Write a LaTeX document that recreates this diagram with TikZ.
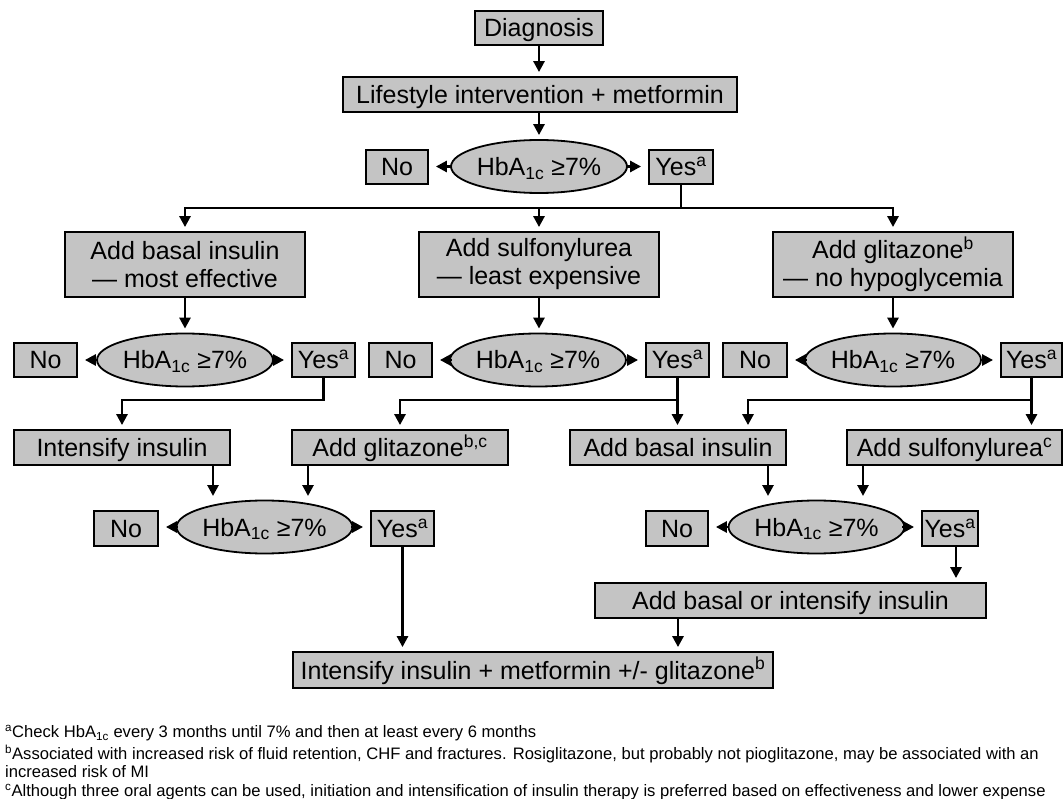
\documentclass[tikz,border=0pt]{standalone}
\usepackage{fontspec}
\setmainfont{Liberation Sans}
\usetikzlibrary{shapes.geometric,arrows.meta}
\definecolor{boxgray}{RGB}{196,196,196}
\newcommand\HbAtxt{HbA\textsubscript{1c} ≥7\%}
\newcommand\Yestxt{Yes\textsuperscript{a}}
\begin{document}
\begin{tikzpicture}[x=1pt,y=-1pt,
  box/.style={draw=black, line width=1.8pt, fill=boxgray, inner sep=0pt,
    font=\fontsize{25}{28}\selectfont, text height=18pt, text depth=0pt},
  box2/.style={draw=black, line width=1.8pt, fill=boxgray, inner sep=0pt, align=center,
    font=\fontsize{25}{28}\selectfont},
  ell/.style={ellipse, draw=black, line width=1.8pt, fill=boxgray, inner sep=0pt,
    minimum height=53pt, font=\fontsize{25}{28}\selectfont, text height=18pt, text depth=0pt},
  arr/.style={line width=2.7pt, line cap=rect, -{Triangle[length=11pt,width=11pt]}, shorten >=4pt},
  harr/.style={arr, shorten >=7pt},
  foot/.style={anchor=west, inner sep=0pt, font=\fontsize{16.6}{19}\selectfont}]
\useasboundingbox (0,0) rectangle (1063,799);
% ---- top
\node[box,minimum width=128pt,minimum height=34pt] (diag) at (539,28) {Diagnosis};
\node[box,minimum width=394pt,minimum height=35pt] (life) at (540,94.5) {Lifestyle intervention + metformin};
\node[ell,minimum width=152pt] (e1) at (539,166.5) {\HbAtxt};
\node[box,minimum width=62pt,minimum height=34pt] (no1) at (397,167) {No};
\node[box,minimum width=64pt,minimum height=34pt] (yes1) at (681,167) {\Yestxt};
% ---- row 2
\node[box2,minimum width=240pt,minimum height=65pt] (A) at (185,264.5) {Add basal insulin\\— most effective};
\node[box2,minimum width=240pt,minimum height=65pt] (B) at (539,264.5) {Add sulfonylurea\\— least expensive};
\node[box2,minimum width=240pt,minimum height=65pt] (C) at (893,264.5) {Add glitazone\textsuperscript{b}\\— no hypoglycemia};
% ---- row 3
\node[box,minimum width=63pt,minimum height=34pt] (noA) at (45.5,360) {No};
\node[ell,minimum width=150pt] (eA) at (185,360) {\HbAtxt};
\node[box,minimum width=63pt,minimum height=34pt] (yesA) at (323.5,360) {\Yestxt};
\node[box,minimum width=63pt,minimum height=34pt] (noB) at (400.5,360) {No};
\node[ell,minimum width=150pt] (eB) at (538,360) {\HbAtxt};
\node[box,minimum width=63pt,minimum height=34pt] (yesB) at (677.5,360) {\Yestxt};
\node[box,minimum width=64pt,minimum height=34pt] (noC) at (755,360) {No};
\node[ell,minimum width=152pt] (eC) at (893,360) {\HbAtxt};
\node[box,minimum width=61pt,minimum height=34pt] (yesC) at (1031.5,360) {\Yestxt};
% ---- row 4
\node[box,minimum width=216pt,minimum height=35pt] (ii) at (122,447.5) {Intensify insulin};
\node[box,minimum width=216pt,minimum height=35pt] (gl) at (400,447.5) {Add glitazone\textsuperscript{b,c}};
\node[box,minimum width=216pt,minimum height=35pt] (bi) at (678,447.5) {Add basal insulin};
\node[box,minimum width=215pt,minimum height=35pt] (su) at (954.5,447.5) {Add sulfonylurea\textsuperscript{c}};
% ---- row 5
\node[box,minimum width=64pt,minimum height=35pt] (noL) at (126,528.5) {No};
\node[ell,minimum width=153pt] (eL) at (264.5,527) {\HbAtxt};
\node[box,minimum width=63pt,minimum height=35pt] (yesL) at (402.5,528.5) {\Yestxt};
\node[box,minimum width=62pt,minimum height=35pt] (noR) at (677,528.5) {No};
\node[ell,minimum width=151pt] (eR) at (816.5,527) {\HbAtxt};
\node[box,minimum width=56pt,minimum height=35pt] (yesR) at (950,528.5) {\Yestxt};
\node[box,minimum width=391pt,minimum height=35pt] (abi) at (790.5,600.5) {Add basal or intensify insulin};
\node[box,minimum width=480pt,minimum height=36pt] (fin) at (533,670) {Intensify insulin + metformin +/- glitazone\textsuperscript{b}};
% ---- helper coordinates
\coordinate (t1) at (0,208);
\coordinate (t2) at (0,400);
\coordinate (r2) at (748,400);
\coordinate (d1) at (213,500);
\coordinate (d2) at (308,500);
\coordinate (d3) at (768,500);
\coordinate (d4) at (863,500);
% ---- connectors top
\draw[arr] (diag.south) -- (diag.south |- life.north);
\draw[arr] (life.south -| e1.north) -- (e1.north);
\draw[harr] (e1.west) -- (e1.west -| no1.east);
\draw[harr] (e1.east) -- (e1.east -| yes1.west);
\draw[arr] (yes1.south) -- (yes1.south |- t1) -| (A.north);
\draw[arr] (yes1.south |- t1) -| (C.north);
\draw[arr] (B.north |- t1) -- (B.north);
% ---- row 2 -> row 3
\draw[arr] (A.south) -- (A.south |- eA.north);
\draw[arr] (B.south) -- (B.south |- eB.north);
\draw[arr] (C.south) -- (C.south |- eC.north);
\foreach \e/\n/\y in {eA/noA/yesA, eB/noB/yesB, eC/noC/yesC} {
  \draw[harr] (\e.west) -- (\e.west -| \n.east);
  \draw[harr] (\e.east) -- (\e.east -| \y.west);
}
% ---- row 3 -> row 4
\draw[arr] (yesA.south) |- (ii.north |- t2) -- (ii.north);
\draw[arr] (yesB.south) |- (gl.north |- t2) -- (gl.north);
\draw[arr] (yesB.south) -- (yesB.south |- bi.north);
\draw[arr] (yesC.south) |- (r2) -- (r2 |- bi.north);
\draw[arr] (yesC.south) -- (yesC.south |- su.north);
% ---- row 4 -> row 5
\draw[arr] (ii.south -| d1) -- (d1);
\draw[arr] (gl.south -| d2) -- (d2);
\draw[arr] (bi.south -| d3) -- (d3);
\draw[arr] (su.south -| d4) -- (d4);
\draw[harr] (eL.west) -- (eL.west -| noL.east);
\draw[harr] (eL.east) -- (eL.east -| yesL.west);
\draw[harr] (eR.west) -- (eR.west -| noR.east);
\draw[harr] (eR.east) -- (eR.east -| yesR.west);
% ---- row 5 -> end
\draw[arr] ([xshift=6pt]yesR.south) -- ([xshift=6pt]yesR.south |- abi.north);
\draw[arr] (yesL.south) -- (yesL.south |- fin.north);
\draw[arr] (abi.south -| bi.south) -- (bi.south |- fin.north);
% ---- footnotes
\node[foot] (f1) at (5,733) {\textsuperscript{a}Check HbA\textsubscript{1c} every 3 months until 7\% and then at least every 6 months};
\node[foot] (f2) at (5,754) {\textsuperscript{b}Associated with increased risk of fluid retention, CHF and fractures. Rosiglitazone, but probably not pioglitazone, may be associated with an};
\node[foot] (f3) at (5,772) {increased risk of MI};
\node[foot] (f4) at (5,792) {\textsuperscript{c}Although three oral agents can be used, initiation and intensification of insulin therapy is preferred based on effectiveness and lower expense};
\end{tikzpicture}
\end{document}
